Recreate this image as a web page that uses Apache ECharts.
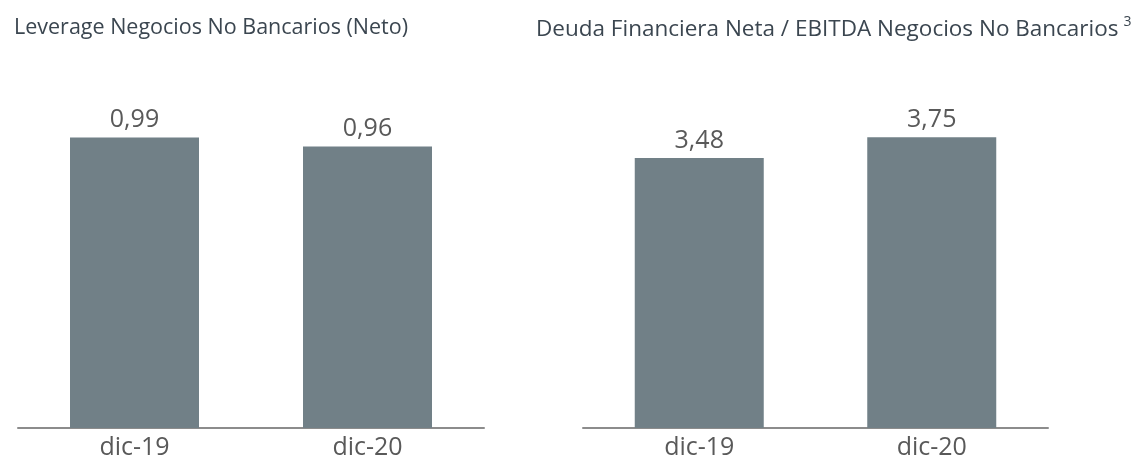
<!DOCTYPE html>
<html>
<head>
<meta charset="utf-8">
<script src="https://cdn.jsdelivr.net/npm/echarts@6/dist/echarts.min.js"></script>
<style>html,body{margin:0;padding:0;background:#fff}#c{width:1136px;height:465px}</style>
</head>
<body>
<div id="c"></div>
<script>
const categories = ['dic-19', 'dic-20'];
const leverageValues = [0.99, 0.96];
const deudaEbitdaValues = [3.48, 3.75];
const titleLeft = 'Leverage Negocios No Bancarios (Neto)';
const titleRight = 'Deuda Financiera Neta / EBITDA Negocios No Bancarios';
const titleRightSup = '3';

const FONT = '"Open Sans", "Noto Sans", sans-serif';
const BAR = '#718087';
const fmt = v => v.toFixed(2).replace('.', ',');

const chart = echarts.init(document.getElementById('c'), null, {renderer: 'canvas'});
const xAxisCommon = {
  type: 'category',
  axisLine: {lineStyle: {color: '#8c8c8c', width: 2}},
  axisTick: {show: false},
  axisLabel: {fontFamily: FONT, fontSize: 25, color: '#595959', margin: 7}
};
const yAxisCommon = {type: 'value', min: 0, show: false, splitLine: {show: false}};
const seriesCommon = {
  type: 'bar', barWidth: 129,
  itemStyle: {color: BAR},
  label: {show: true, position: 'top', distance: 5, fontFamily: FONT, fontSize: 25, color: '#595959',
    formatter: p => fmt(p.value)}
};
chart.setOption({
  animation: false,
  title: [
    {text: titleLeft, left: 9, top: 12,
     textStyle: {fontFamily: FONT, fontSize: 21.5, fontWeight: 'normal', color: '#3b4650'}},
    {text: '{m|' + titleRight + '} {s|' + titleRightSup + '}', left: 531, top: 10,
     textStyle: {fontWeight: 'normal', rich: {
       m: {fontFamily: FONT, fontSize: 22.5, fontWeight: 'normal', color: '#3b4650', verticalAlign: 'bottom'},
       s: {fontFamily: FONT, fontSize: 14, fontWeight: 'normal', color: '#3b4650', verticalAlign: 'top', padding: [0,0,12,0]}
     }}}
  ],
  grid: [
    {left: 18, right: 652, top: 76, bottom: 37},
    {left: 583, right: 88, top: 79, bottom: 37}
  ],
  xAxis: [
    Object.assign({gridIndex: 0, data: categories}, xAxisCommon),
    Object.assign({gridIndex: 1, data: categories}, xAxisCommon)
  ],
  yAxis: [
    Object.assign({gridIndex: 0, max: 1.2}, yAxisCommon),
    Object.assign({gridIndex: 1, max: 4.5}, yAxisCommon)
  ],
  series: [
    Object.assign({xAxisIndex: 0, yAxisIndex: 0, data: leverageValues}, seriesCommon),
    Object.assign({xAxisIndex: 1, yAxisIndex: 1, data: deudaEbitdaValues}, seriesCommon)
  ]
});
</script>
</body>
</html>
